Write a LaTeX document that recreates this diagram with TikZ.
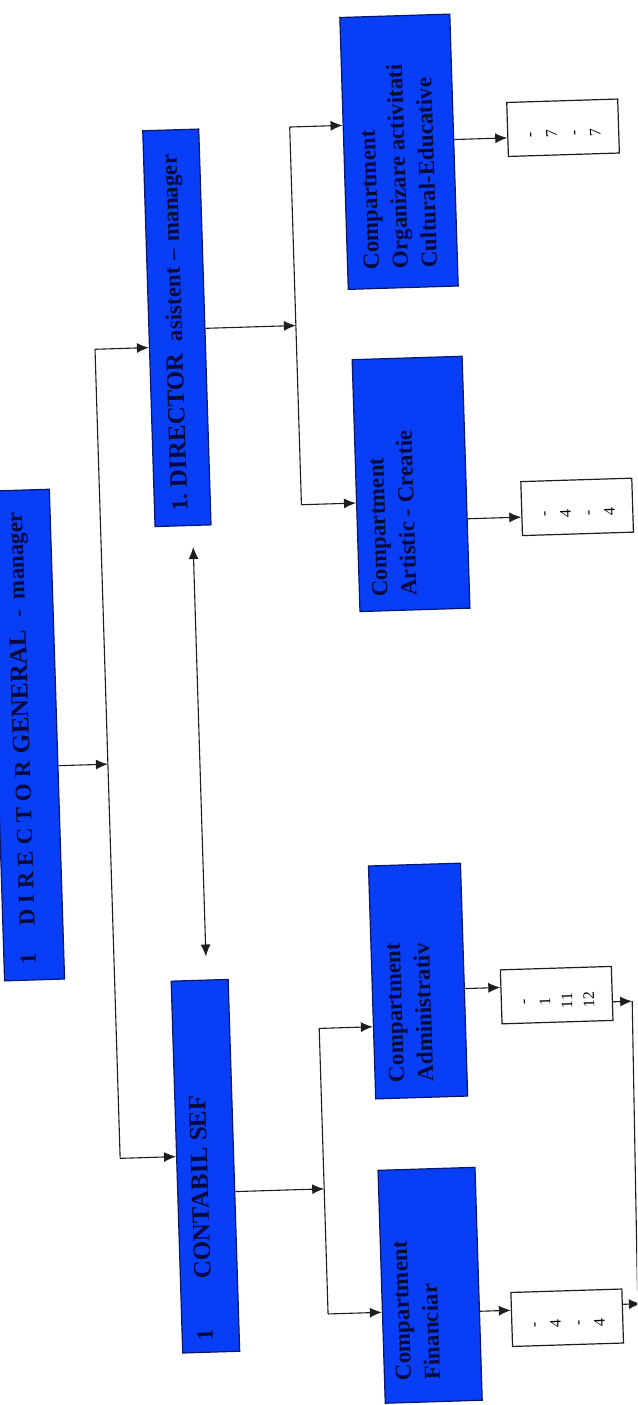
\documentclass[tikz,border=0pt]{standalone}
\usepackage{fontspec}
\setmainfont{Liberation Serif}
\usetikzlibrary{arrows.meta}
\definecolor{boxblue}{RGB}{8,62,245}
\definecolor{boxedge}{RGB}{6,24,110}
\definecolor{inkdark}{RGB}{6,10,60}
\definecolor{linegrey}{RGB}{30,30,30}
% rotated label: length of row, shift across the row, content
\newcommand{\turned}[3]{\rotatebox{90}{\makebox[#1][l]{\raisebox{#2}[0pt][0pt]{#3}}}}
\newcommand{\twolines}[1]{\begin{tabular}{@{}l@{}}#1\end{tabular}}
\newcommand{\tally}[1]{\rotatebox{90}{\fontsize{16}{22}\selectfont\begin{tabular}{@{}c@{}}#1\end{tabular}\hspace{12pt}}}
\newcommand{\wider}[1]{{\fontsize{25}{29}\selectfont #1}}
\tikzset{
  bluebox/.style={draw=boxedge,line width=1.2pt,fill=boxblue,inner sep=0pt,text=inkdark,
    font=\bfseries\fontsize{23}{29}\selectfont},
  whitebox/.style={draw=linegrey,line width=1.2pt,fill=white,inner sep=0pt,text=black,
    minimum width=111pt,minimum height=54pt},
  link/.style={draw=linegrey,line width=1.1pt},
  linkarrow/.style={link,-{Latex[length=12pt,width=10pt]}},
  bothways/.style={link,{Latex[length=12pt,width=10pt]}-{Latex[length=12pt,width=10pt]},shorten <=21pt,shorten >=23pt}
}
\begin{document}
\begin{tikzpicture}[x=1pt,y=-1pt]
\useasboundingbox (0,0) rectangle (637,1405);
\clip (0,0) rectangle (637,1405);
\fill[white] (0,0) rectangle (637,1405);
\begin{scope}[transform canvas={rotate around={1.78:(318,700)}}]
% boxes
\node[bluebox,minimum width=60pt,minimum height=490pt] (dg) at (26,726)
  {\turned{460pt}{-2pt}{1\hspace{28pt}D I R E C T O R\hspace{8pt}\wider{GENERAL}\hspace{12pt}-\hspace{11pt}manager}};
\node[bluebox,minimum width=56pt,minimum height=396pt] (da) at (188.5,323.6)
  {\turned{366pt}{-5pt}{1.\hspace{6pt}\wider{DIRECTOR}\hspace{12pt}asistent\hspace{7pt}--\hspace{7pt}manager}};
\node[bluebox,minimum width=57pt,minimum height=372pt] (cs) at (191,1162.5)
  {\turned{348pt}{-2pt}{1\hspace{50pt}\wider{CONTABIL SEF}}};
\node[bluebox,minimum width=110pt,minimum height=272pt] (c1) at (416,154.5)
  {\turned{234pt}{-6pt}{\twolines{Compartment\\Organizare activitati\\Cultural-Educative}}};
\node[bluebox,minimum width=110pt,minimum height=252pt] (c2) at (417.7,486.9)
  {\turned{224pt}{12pt}{\twolines{Compartment\\Artistic - Creatie}}};
\node[bluebox,minimum width=92pt,minimum height=233pt] (c3) at (409.3,984)
  {\turned{201pt}{2pt}{\twolines{Compartment\\Administrativ}}};
\node[bluebox,minimum width=97pt,minimum height=233pt] (c4) at (411.9,1288.5)
  {\turned{189pt}{7pt}{\twolines{Compartment\\Financiar}}};
\node[whitebox] (w1) at (580.7,135.6) {\tally{-\\7\\-\\7}};
\node[whitebox] (w2) at (583,515) {\tally{-\\4\\-\\4}};
\node[whitebox] (w3) at (547.4,1002.4) {\tally{-\\1\\11\\12}};
\node[whitebox] (w4) at (547.9,1325.2) {\tally{-\\4\\-\\4}};
% junctions
\coordinate (j1) at (106,757.6);
\coordinate (t1a) at (106,342.5);
\coordinate (t1b) at (106,1152);
\coordinate (j2) at (307.5,325);
\coordinate (t2a) at (307.5,126.4);
\coordinate (t2b) at (307.5,504.3);
\coordinate (j3) at (309,1188.8);
\coordinate (t3a) at (309,1028.3);
\coordinate (t3b) at (309,1314);
\coordinate (k1) at (198,600);
\coordinate (r1) at (622.7,1010.8);
\coordinate (r2) at (619,1300);
\coordinate (r3) at (622,1313.5);
\coordinate (l1) at (0,144);
\coordinate (l2) at (0,523.5);
\coordinate (l3) at (0,993);
\coordinate (l4) at (0,1316);
% connectors
\draw[linkarrow] (dg.east |- j1) -- (j1);
\draw[link] (t1b) -- (t1a);
\draw[linkarrow] (t1a) -- (da.west |- t1a);
\draw[linkarrow] (t1b) -- (cs.west |- t1b);
\draw[bothways] (k1 |- da.south) -- (k1 |- cs.north);
\draw[linkarrow] (da.east |- j2) -- (j2);
\draw[link] (t2b) -- (t2a);
\draw[linkarrow] (t2a) -- (c1.west |- t2a);
\draw[linkarrow] (t2b) -- (c2.west |- t2b);
\draw[linkarrow] (cs.east |- j3) -- (j3);
\draw[link] (t3b) -- (t3a);
\draw[linkarrow] (t3a) -- (c3.west |- t3a);
\draw[linkarrow] (t3b) -- (c4.west |- t3b);
\draw[linkarrow] (c1.east |- l1) -- (w1.west |- l1);
\draw[linkarrow] (c2.east |- l2) -- (w2.west |- l2);
\draw[linkarrow] (c3.east |- l3) -- (w3.west |- l3);
\draw[linkarrow] (c4.east |- l4) -- (w4.west |- l4);
\draw[linkarrow] (w3.east |- r1) -- (r1);
\draw[link] (r1) -- (r2);
\draw[linkarrow] (w4.east |- r3) -- (r3);
\end{scope}
\end{tikzpicture}
\end{document}
